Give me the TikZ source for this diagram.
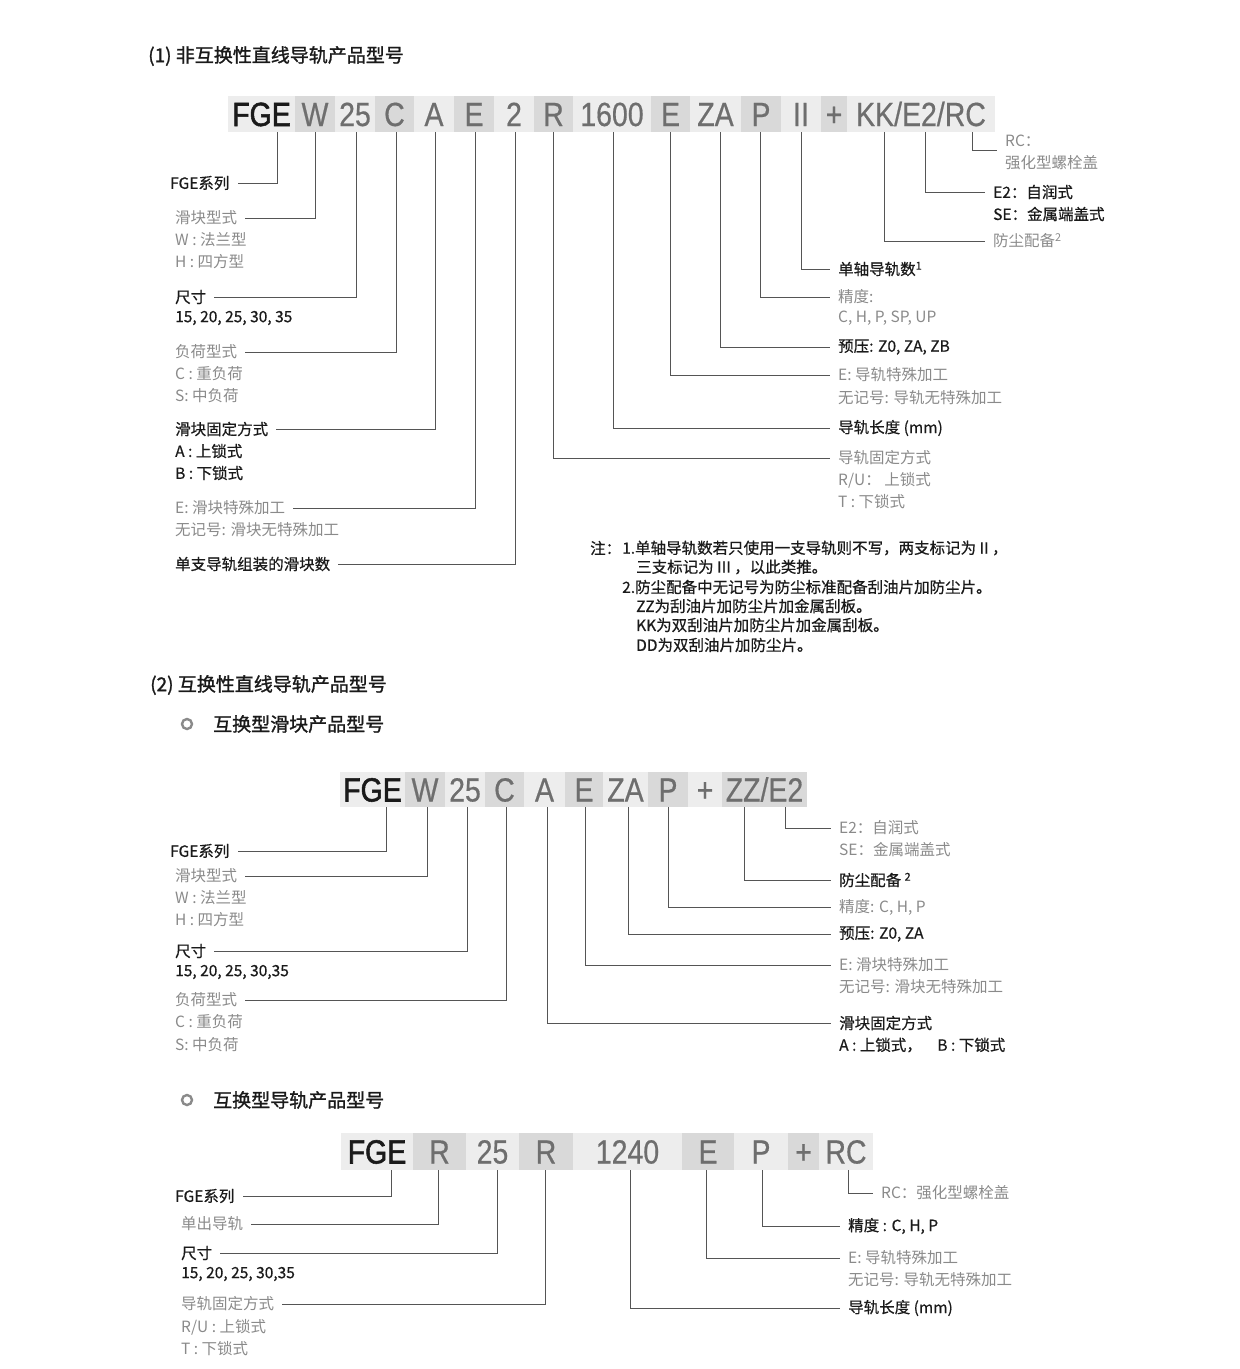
\documentclass[tikz,border=0pt]{standalone}
\usepackage{fontspec}
\setmainfont{Noto Sans CJK SC}
\newfontfamily\darkfont[FakeBold=0.6]{Noto Sans CJK SC}
\newfontfamily\headfont[FakeBold=1.3]{Noto Sans CJK SC}
\newfontfamily\codefont[FakeStretch=0.85,FakeBold=0.5]{Liberation Sans}
\newfontfamily\codefontb[FakeStretch=0.85,FakeBold=1.6]{Liberation Sans}
\usepackage{tikz}
\definecolor{barlight}{HTML}{EDEDED}
\definecolor{bardark}{HTML}{D9D9D9}
\definecolor{codegray}{HTML}{6E6E6E}
\definecolor{txtgray}{HTML}{8A8A8A}
\definecolor{txtblack}{HTML}{1A1A1A}
\definecolor{leadgray}{HTML}{555555}

\begin{document}
\begin{tikzpicture}[x=1pt,y=-1pt,line join=miter,
  segl/.style={fill=barlight,inner sep=0,minimum height=36,text height=24,text depth=0,text=codegray,font=\codefont\fontsize{33.5}{36}\selectfont},
  segd/.style={segl,fill=bardark},
  segk/.style={segl,text=txtblack,font=\codefontb\fontsize{33.5}{36}\selectfont},
  lb/.style={anchor=west,inner sep=0,text=txtblack,font=\darkfont\fontsize{15.5}{18}\selectfont},
  lg/.style={lb,text=txtgray,font=\normalfont\fontsize{15.5}{18}\selectfont},
  hd/.style={anchor=west,inner sep=0,text=txtblack,font=\headfont\fontsize{19}{22}\selectfont},
  bul/.style={circle,draw=txtgray,line width=2.4pt,minimum size=10,inner sep=0},
  ld/.style={draw=leadgray,line width=0.9pt,shorten >=8pt}]
\useasboundingbox (0,0) rectangle (1240,1369);

\node[hd] (h1) at (148,56) {(1) 非互换性直线导轨产品型号};

\node[segk,minimum width=67] (s1fge) at (261.5,114) {FGE};
\node[segd,minimum width=40] (s1w) at (315,114) {W};
\node[segl,minimum width=40] (s1size) at (355,114) {25};
\node[segd,minimum width=39] (s1load) at (394.5,114) {C};
\node[segl,minimum width=40] (s1fix) at (434,114) {A};
\node[segd,minimum width=40] (s1proc) at (474,114) {E};
\node[segl,minimum width=40] (s1num) at (514,114) {2};
\node[segd,minimum width=39] (s1rfix) at (553.5,114) {R};
\node[segl,minimum width=78] (s1len) at (612,114) {1600};
\node[segd,minimum width=39] (s1rproc) at (670.5,114) {E};
\node[segl,minimum width=51] (s1pre) at (715.5,114) {ZA};
\node[segd,minimum width=40] (s1acc) at (761,114) {P};
\node[segl,minimum width=40] (s1ii) at (801,114) {II};
\node[segd,minimum width=26] (s1plus) at (834,114) {+};
\node[segl,minimum width=148] (s1opt) at (921,114) {KK/E2/RC};

\node[lb] (l1fge) at (170,183) {FGE系列};
\node[lg] (l1w) at (175,218) {滑块型式};
\node[lg] (l1w2) at (175,240) {W : 法兰型};
\node[lg] (l1w3) at (175,262) {H : 四方型};
\node[lb] (l1size) at (175,297) {尺寸};
\node[lb] (l1size2) at (175,318) {15, 20, 25, 30, 35};
\node[lg] (l1load) at (175,352) {负荷型式};
\node[lg] (l1load2) at (175,374) {C : 重负荷};
\node[lg] (l1load3) at (175,396) {S: 中负荷};
\node[lb] (l1fix) at (175,429) {滑块固定方式};
\node[lb] (l1fix2) at (175,451) {A : 上锁式};
\node[lb] (l1fix3) at (175,473) {B : 下锁式};
\node[lg] (l1proc) at (175,508) {E: 滑块特殊加工};
\node[lg] (l1proc2) at (175,530) {无记号: 滑块无特殊加工};
\node[lb] (l1num) at (175,564) {单支导轨组装的滑块数};

\node[lg] (r1rc) at (1005,141) {RC：};
\node[lg] (r1rc2) at (1005,163) {强化型螺栓盖};
\node[lb] (r1e2) at (993,192) {E2：自润式};
\node[lb] (r1e22) at (993,214) {SE：金属端盖式};
\node[lg] (r1dust) at (993,241) {防尘配备\textsuperscript{2}};
\node[lb] (r1ii) at (838,269) {单轴导轨数\textsuperscript{1}};
\node[lg] (r1acc) at (838,297) {精度:};
\node[lg] (r1acc2) at (838,318) {C, H, P, SP, UP};
\node[lb] (r1pre) at (838,347) {预压: Z0, ZA, ZB};
\node[lg] (r1proc) at (838,375) {E: 导轨特殊加工};
\node[lg] (r1proc2) at (838,398) {无记号: 导轨无特殊加工};
\node[lb] (r1len) at (838,428) {导轨长度 (mm)};
\node[lg] (r1fix) at (838,458) {导轨固定方式};
\node[lg] (r1fix2) at (838,480) {R/U： 上锁式};
\node[lg] (r1fix3) at (838,502) {T : 下锁式};

\draw[ld] ([xshift=15.5pt]s1fge.south) |- (l1fge.east);
\draw[ld] (s1w.south) |- (l1w.east);
\draw[ld] ([xshift=1pt]s1size.south) |- (l1size.east);
\draw[ld] ([xshift=1.5pt]s1load.south) |- (l1load.east);
\draw[ld] ([xshift=1pt]s1fix.south) |- (l1fix.east);
\draw[ld] ([xshift=1pt]s1proc.south) |- (l1proc.east);
\draw[ld] ([xshift=1pt]s1num.south) |- (l1num.east);
\draw[ld] (s1rfix.south) |- (r1fix.west);
\draw[ld] ([xshift=1pt]s1len.south) |- (r1len.west);
\draw[ld] (s1rproc.south) |- (r1proc.west);
\draw[ld] ([xshift=4.5pt]s1pre.south) |- (r1pre.west);
\draw[ld] ([xshift=-1pt]s1acc.south) |- (r1acc.west);
\draw[ld] (s1ii.south) |- (r1ii.west);
\draw[ld] ([xshift=-37pt]s1opt.south) |- (r1dust.west);
\draw[ld] ([xshift=4pt]s1opt.south) |- (r1e2.west);
\draw[ld] ([xshift=51pt]s1opt.south) |- ([yshift=-3pt]r1rc.south west);

\node[lb] (n0) at (590,548) {注：};
\node[lb] (n1a) at (622,548) {1.单轴导轨数若只使用一支导轨则不写，两支标记为 II ，};
\node[lb] (n1b) at (636,567) {三支标记为 III ，以此类推。};
\node[lb] (n2a) at (622,587) {2.防尘配备中无记号为防尘标准配备刮油片加防尘片。};
\node[lb] (n2b) at (636,606) {ZZ为刮油片加防尘片加金属刮板。};
\node[lb] (n2c) at (636,625) {KK为双刮油片加防尘片加金属刮板。};
\node[lb] (n2d) at (636,645) {DD为双刮油片加防尘片。};

\node[hd] (h2) at (150,685) {(2) 互换性直线导轨产品型号};
\node[bul] (b2a) at (187,724) {};
\node[hd] (h2a) at (213,724) {互换型滑块产品型号};

\node[segk,minimum width=65,minimum height=35] (s2fge) at (372.5,789.5) {FGE};
\node[segd,minimum width=40,minimum height=35] (s2w) at (425,789.5) {W};
\node[segl,minimum width=40,minimum height=35] (s2size) at (465,789.5) {25};
\node[segd,minimum width=39,minimum height=35] (s2load) at (504.5,789.5) {C};
\node[segl,minimum width=41,minimum height=35] (s2fix) at (544.5,789.5) {A};
\node[segd,minimum width=38,minimum height=35] (s2proc) at (584,789.5) {E};
\node[segl,minimum width=45,minimum height=35] (s2pre) at (625.5,789.5) {ZA};
\node[segd,minimum width=40,minimum height=35] (s2acc) at (668,789.5) {P};
\node[segl,minimum width=34,minimum height=35] (s2plus) at (705,789.5) {+};
\node[segd,minimum width=85,minimum height=35] (s2opt) at (764.5,789.5) {ZZ/E2};

\node[lb] (l2fge) at (170,851) {FGE系列};
\node[lg] (l2w) at (175,876) {滑块型式};
\node[lg] (l2w2) at (175,898) {W : 法兰型};
\node[lg] (l2w3) at (175,920) {H : 四方型};
\node[lb] (l2size) at (175,951) {尺寸};
\node[lb] (l2size2) at (175,972) {15, 20, 25, 30,35};
\node[lg] (l2load) at (175,1000) {负荷型式};
\node[lg] (l2load2) at (175,1022) {C : 重负荷};
\node[lg] (l2load3) at (175,1045) {S: 中负荷};

\node[lg] (r2e2) at (839,828) {E2：自润式};
\node[lg] (r2e22) at (839,850) {SE：金属端盖式};
\node[lb] (r2dust) at (839,880) {防尘配备 \textsuperscript{2}};
\node[lg] (r2acc) at (839,907) {精度: C, H, P};
\node[lb] (r2pre) at (839,934) {预压: Z0, ZA};
\node[lg] (r2proc) at (839,965) {E: 滑块特殊加工};
\node[lg] (r2proc2) at (839,987) {无记号: 滑块无特殊加工};
\node[lb] (r2fix) at (839,1023) {滑块固定方式};
\node[lb] (r2fix2) at (839,1045) {A : 上锁式，\quad B : 下锁式};

\draw[ld] ([xshift=13.5pt]s2fge.south) |- (l2fge.east);
\draw[ld] ([xshift=2pt]s2w.south) |- (l2w.east);
\draw[ld] ([xshift=2pt]s2size.south) |- (l2size.east);
\draw[ld] ([xshift=1.5pt]s2load.south) |- (l2load.east);
\draw[ld] ([xshift=2.5pt]s2fix.south) |- (r2fix.west);
\draw[ld] ([xshift=1pt]s2proc.south) |- (r2proc.west);
\draw[ld] ([xshift=2.5pt]s2pre.south) |- (r2pre.west);
\draw[ld] (s2acc.south) |- (r2acc.west);
\draw[ld] ([xshift=-20.5pt]s2opt.south) |- (r2dust.west);
\draw[ld] ([xshift=20.5pt]s2opt.south) |- (r2e2.west);

\node[bul] (b2b) at (187,1100) {};
\node[hd] (h2b) at (213,1100) {互换型导轨产品型号};

\node[segk,minimum width=72,minimum height=37] (s3fge) at (377,1151.5) {FGE};
\node[segd,minimum width=53,minimum height=37] (s3r) at (439.5,1151.5) {R};
\node[segl,minimum width=53,minimum height=37] (s3size) at (492.5,1151.5) {25};
\node[segd,minimum width=54,minimum height=37] (s3fix) at (546,1151.5) {R};
\node[segl,minimum width=109,minimum height=37] (s3len) at (627.5,1151.5) {1240};
\node[segd,minimum width=52,minimum height=37] (s3proc) at (708,1151.5) {E};
\node[segl,minimum width=54,minimum height=37] (s3acc) at (761,1151.5) {P};
\node[segd,minimum width=31,minimum height=37] (s3plus) at (803.5,1151.5) {+};
\node[segl,minimum width=54,minimum height=37] (s3rc) at (846,1151.5) {RC};

\node[lb] (l3fge) at (175,1196) {FGE系列};
\node[lg] (l3rail) at (181,1224) {单出导轨};
\node[lb] (l3size) at (181,1253) {尺寸};
\node[lb] (l3size2) at (181,1274) {15, 20, 25, 30,35};
\node[lg] (l3fix) at (181,1304) {导轨固定方式};
\node[lg] (l3fix2) at (181,1327) {R/U : 上锁式};
\node[lg] (l3fix3) at (181,1349) {T : 下锁式};

\node[lg] (r3rc) at (881,1193) {RC：强化型螺栓盖};
\node[lb] (r3acc) at (848,1226) {精度 : C, H, P};
\node[lg] (r3proc) at (848,1258) {E: 导轨特殊加工};
\node[lg] (r3proc2) at (848,1280) {无记号: 导轨无特殊加工};
\node[lb] (r3len) at (848,1308) {导轨长度 (mm)};

\draw[ld] ([xshift=14pt]s3fge.south) |- (l3fge.east);
\draw[ld] ([xshift=-1.5pt]s3r.south) |- (l3rail.east);
\draw[ld] ([xshift=4.5pt]s3size.south) |- (l3size.east);
\draw[ld] ([xshift=-1pt]s3fix.south) |- (l3fix.east);
\draw[ld] ([xshift=2.5pt]s3len.south) |- (r3len.west);
\draw[ld] ([xshift=-2pt]s3proc.south) |- (r3proc.west);
\draw[ld] ([xshift=1pt]s3acc.south) |- (r3acc.west);
\draw[ld] ([xshift=2pt]s3rc.south) |- (r3rc.west);
\end{tikzpicture}
\end{document}
